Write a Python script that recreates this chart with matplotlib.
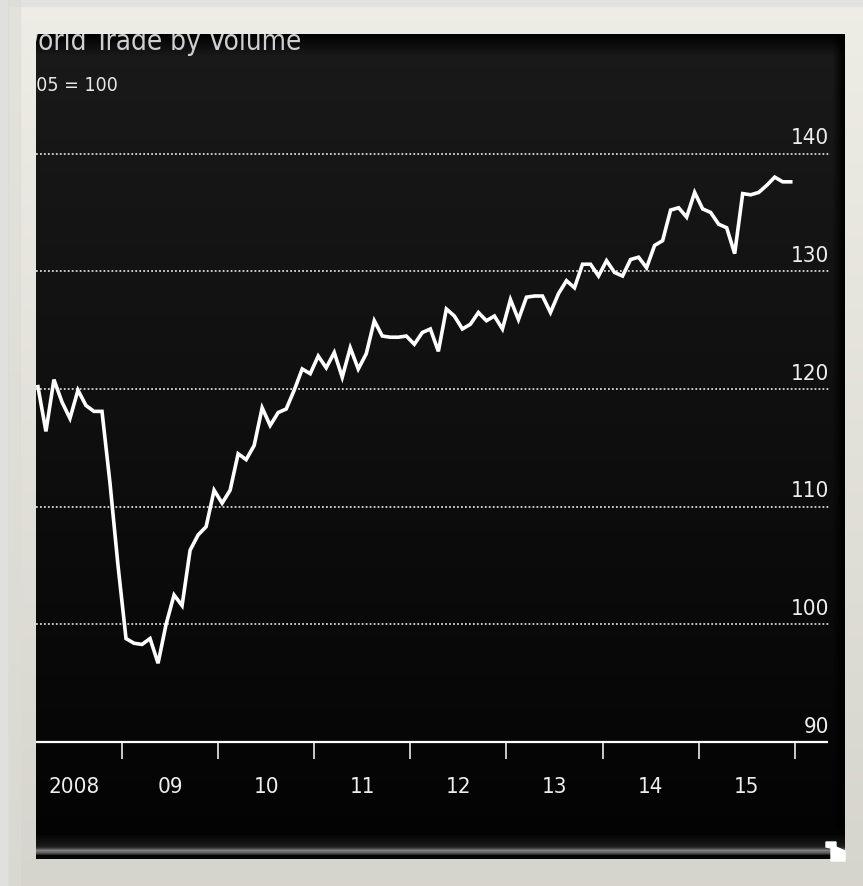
import matplotlib.pyplot as plt
from matplotlib.patches import Polygon
import numpy as np
import pandas as pd

# world trade volume index, 2005 = 100, monthly from Feb 2008
volume = [
  120.2, 116.4, 120.8, 118.9, 117.5, 119.9, 118.6, 118.1, 118.1, 112.0, 105.0,
  98.8, 98.4, 98.3, 98.8, 96.7, 100.0, 102.5, 101.6, 106.3, 107.6, 108.3, 111.4,
  110.3, 111.4, 114.5, 114.0, 115.2, 118.4, 116.9, 118.0, 118.3, 119.9, 121.7, 121.3,
  122.8, 121.8, 123.1, 121.0, 123.5, 121.7, 123.0, 125.8, 124.5, 124.4, 124.4, 124.5,
  123.8, 124.8, 125.1, 123.2, 126.8, 126.2, 125.1, 125.5, 126.5, 125.8, 126.2, 125.1,
  127.6, 125.9, 127.8, 127.9, 127.9, 126.5, 128.1, 129.2, 128.6, 130.6, 130.6, 129.6,
  130.9, 129.9, 129.6, 131.0, 131.2, 130.3, 132.2, 132.6, 135.2, 135.4, 134.6, 136.7,
  135.3, 135.0, 134.0, 133.7, 131.5, 136.6, 136.5, 136.7, 137.3, 138.0, 137.6, 137.6,
]
months = pd.date_range('2008-02-01', periods=len(volume), freq='MS')

grid_levels = [100, 110, 120, 130, 140]
axis_level = 90
year_ticks = [2009, 2010, 2011, 2012, 2013, 2014, 2015, 2016]
year_labels = ['2008', '09', '10', '11', '12', '13', '14', '15']
title = 'World Trade by Volume'
subtitle = '2005 = 100'

FONT = dict(family=['DejaVu Sans'], stretch='condensed')


def screen_shading(rows, cols):
  # soft glare of the photographed screen: grey on top, black at the bottom
  base = np.linspace(0.105, 0.015, rows)
  top = np.clip(np.arange(rows) / 22.0, 0, 1)
  shade = base * top
  # bright rim at the lower edge
  r = np.arange(rows)
  rim = 0.42 * np.exp(-((r - (rows - 8)) / 3.0) ** 2) + \
        0.12 * np.clip((r - (rows - 25)) / 17.0, 0, 1) * (r < rows - 8)
  shade = shade + rim
  shade[rows - 4:] = 0.02
  img = np.repeat(shade[:, None], cols, axis=1)
  right = np.clip((cols - 1 - np.arange(cols)) / 12.0, 0, 1)
  img[:rows - 30] *= right[None, :]
  return img


def main():
  fig = plt.figure(figsize=(8.63, 8.87), dpi=100)
  W, H = 863, 887

  # photo frame: cream at the top, greyer towards the bottom
  bg = fig.add_axes([0, 0, 1, 1], zorder=-5)
  bg.axis('off')
  frame = np.linspace(0, 1, 200)[:, None]
  frame_rgb = (1 - frame)[..., None] * np.array([0.935, 0.93, 0.90]) + \
              frame[..., None] * np.array([0.84, 0.835, 0.805])
  frame_rgb = np.repeat(frame_rgb, 4, axis=1)
  bg.imshow(frame_rgb, extent=[0, 1, 0, 1], aspect='auto')
  bg.set_xlim(0, 1)
  bg.set_ylim(0, 1)
  bg.axhspan(1 - 7 / H, 1, color='#e2e2e0')
  bg.axvspan(0, 8 / W, color='#e0e0de')
  bg.axvspan(8 / W, 20 / W, color='#dcdbd5', alpha=0.6)

  ax = fig.add_axes([36 / W, 27 / H, 809 / W, 825 / H])
  ax.set_facecolor('#060606')
  x0, x1 = 2008.105, 2016.523
  y0, y1 = 80.07, 150.16
  for s in ax.spines.values():
    s.set_visible(False)
  ax.set_xticks([])
  ax.set_yticks([])

  ax.imshow(screen_shading(825, 809), extent=[x0, x1, y0, y1], aspect='auto',
            cmap='gray', vmin=0, vmax=1, zorder=0)
  ax.set_xlim(x0, x1)
  ax.set_ylim(y0, y1)

  xr = 2016.367
  ax.hlines(grid_levels, x0, xr, colors='#d8d8d8', linestyles=(0, (1, 1.2)),
            linewidth=1.3, zorder=1)
  ax.hlines(axis_level, x0, 2016.35, colors='white', linewidth=1.6, zorder=2)
  ax.vlines(year_ticks, axis_level - 1.45, axis_level, colors='white',
            linewidth=1.1, zorder=2)

  for g in grid_levels + [axis_level]:
    ax.text(2016.36, g + 1.4, str(g), ha='right', va='center', color='#eeeeee',
            fontsize=16, **FONT)
  for y, lab in zip(range(2008, 2016), year_labels):
    ax.text(y + 0.5, 86.25, lab, ha='center', va='center', color='#eeeeee',
            fontsize=16, **FONT)

  xs = [d.year + (d.month - 0.5) / 12 for d in months]
  ax.plot(xs, volume, color='white', linewidth=2.6, solid_joinstyle='miter',
          zorder=3, clip_on=True)

  # title and subtitle, cut off by the screen edge
  t1 = ax.text(15 / W, 1 - 49.5 / H, title, transform=fig.transFigure,
               ha='left', va='baseline', color='#cfcfcf', fontsize=20,
               clip_on=True, **FONT)
  t1.set_clip_box(ax.bbox)
  t2 = ax.text(14 / W, 1 - 91 / H, subtitle, transform=fig.transFigure,
               ha='left', va='baseline', color='#e6e6e6', fontsize=14,
               clip_on=True, **FONT)
  t2.set_clip_box(ax.bbox)

  # small white corner mark at the bottom right of the screen
  ax.add_patch(Polygon([(826 / W, 1 - 843 / H), (836 / W, 1 - 843 / H),
                        (836 / W, 1 - 848 / H), (845 / W, 1 - 852 / H),
                        (845 / W, 1 - 862 / H), (831 / W, 1 - 862 / H),
                        (831 / W, 1 - 849 / H), (826 / W, 1 - 848 / H)],
                       closed=True, color='white', transform=fig.transFigure,
                       clip_on=False, zorder=5))

  fig.savefig('out.png', dpi=100)


if __name__ == "__main__":
  main()
